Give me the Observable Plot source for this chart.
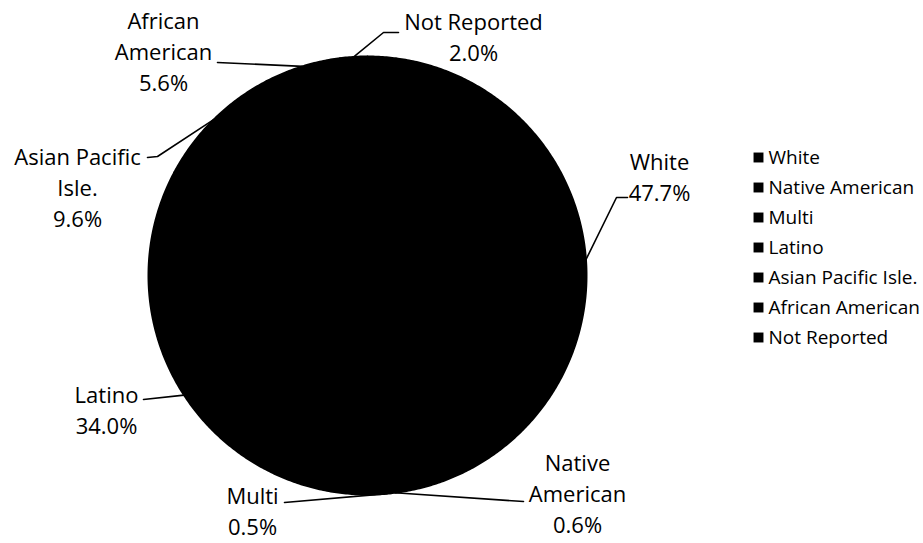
<!DOCTYPE html>
<html><head><meta charset="utf-8">
<script src="https://cdn.jsdelivr.net/npm/d3@7"></script>
<script src="https://cdn.jsdelivr.net/npm/@observablehq/plot@0.6"></script>
<style>body{margin:0;background:#fff}#chart svg{display:block}</style>
</head><body><div id="chart"></div>
<script>
// ---- data ----
const categories = ["White","Native American","Multi","Latino","Asian Pacific Isle.","African American","Not Reported"];
const shares = [47.7, 0.6, 0.5, 34.0, 9.6, 5.6, 2.0];
const labelNames = ["White","Native\nAmerican","Multi","Latino","Asian Pacific\nIsle.","African\nAmerican","Not Reported"];

// ---- layout ----
const W = 923, H = 543;
const cx = 367, cy = 275, R = 219;
// label block centres and leader elbows (manual Excel-style label placement)
const labelLayout = [
  {x: 659, y: 175, leader: [[616,197],[627,197]]},
  {x: 577, y: 492, leader: [[523,501]]},
  {x: 252, y: 509, leader: [[284,502]]},
  {x: 106, y: 408, leader: [[143,399]]},
  {x: 77,  y: 186, leader: [[157,156],[147,157]]},
  {x: 163, y: 50,  leader: [[217,62]]},
  {x: 473, y: 35,  leader: [[383,32],[398,32]]}
];
const legendX = 758, legendTextX = 768, legendY0 = 157, legendStep = 30;

const arcs = d3.pie().sort(null).value(d => d)(shares);
const pt = (a, r) => [cx + r * Math.sin(a), cy - r * Math.cos(a)];

const slicePts = [];
arcs.forEach((a, i) => {
  const cat = categories[i];
  slicePts.push({cat, x: cx, y: cy});
  const n = Math.max(2, Math.ceil((a.endAngle - a.startAngle) / (Math.PI / 360)));
  for (let k = 0; k <= n; k++) {
    const ang = a.startAngle + (a.endAngle - a.startAngle) * k / n;
    const [x, y] = pt(ang, R);
    slicePts.push({cat, x, y});
  }
  slicePts.push({cat, x: cx, y: cy});
});

const leaderPts = [];
const labels = [];
arcs.forEach((a, i) => {
  const cat = categories[i];
  const mid = (a.startAngle + a.endAngle) / 2;
  const [x0, y0] = pt(mid, R);
  leaderPts.push({cat, x: x0, y: y0});
  labelLayout[i].leader.forEach(([x, y]) => leaderPts.push({cat, x, y}));
  labels.push({x: labelLayout[i].x, y: labelLayout[i].y, text: labelNames[i] + "\n" + shares[i].toFixed(1) + "%"});
});

const legend = categories.map((c, i) => ({c, y: legendY0 + i * legendStep}));

const chart = Plot.plot({
  width: W, height: H, margin: 0,
  x: {domain: [0, W], range: [0, W]},
  y: {domain: [0, H], range: [0, H]},
  axis: null,
  style: {fontFamily: "'Open Sans', sans-serif", background: "#fff", color: "#000"},
  marks: [
    Plot.line(slicePts, {x: "x", y: "y", z: "cat", fill: "black", stroke: "black", strokeWidth: 2, strokeLinejoin: "round"}),
    Plot.line(leaderPts, {x: "x", y: "y", z: "cat", stroke: "black", strokeWidth: 1.6}),
    Plot.text(labels, {x: "x", y: "y", text: "text", fontSize: 22, lineHeight: 1.41, textAnchor: "middle", lineAnchor: "middle", fill: "black"}),
    Plot.dot(legend, {x: () => legendX, y: "y", symbol: "square", r: 5.6, fill: "black", stroke: "none"}),
    Plot.text(legend, {x: () => legendTextX, y: "y", text: "c", textAnchor: "start", fontSize: 19, fill: "black"})
  ]
});
document.getElementById("chart").appendChild(chart);
</script>
</body></html>
